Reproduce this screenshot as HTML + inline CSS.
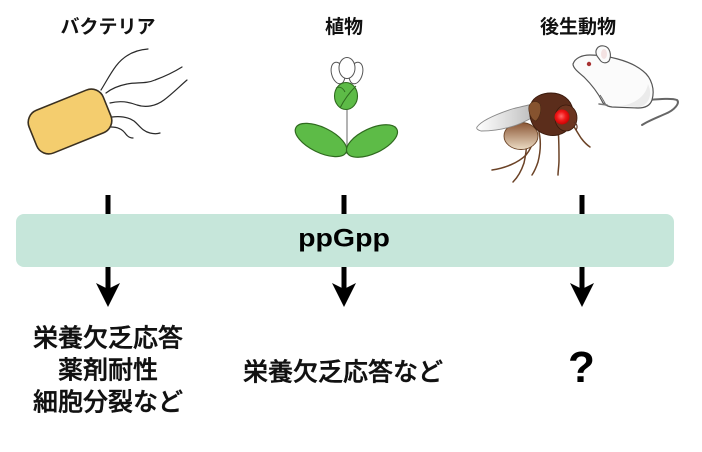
<!DOCTYPE html>
<html><head><meta charset="utf-8">
<style>
html,body{margin:0;padding:0;background:#fff;}
svg{display:block;}
.t{font-family:"Liberation Sans","Noto Sans CJK JP",sans-serif;fill:#111;}
.m{font-family:"Liberation Sans","Noto Sans CJK JP Medium","Noto Sans CJK JP",sans-serif;fill:#111;}
</style></head>
<body>
<svg width="702" height="452" viewBox="0 0 702 452" xmlns="http://www.w3.org/2000/svg">
<defs>
  <linearGradient id="wingG" x1="0" y1="0" x2="1" y2="0">
    <stop offset="0" stop-color="#ffffff"/>
    <stop offset="0.6" stop-color="#d4d4d4"/>
    <stop offset="1" stop-color="#b4b4b4"/>
  </linearGradient>
  <linearGradient id="abdG" x1="0" y1="0" x2="0" y2="1">
    <stop offset="0" stop-color="#8a5534"/>
    <stop offset="1" stop-color="#ecdcc4"/>
  </linearGradient>
  <radialGradient id="eyeG" cx="0.45" cy="0.45" r="0.6">
    <stop offset="0" stop-color="#ff6a6a"/>
    <stop offset="0.5" stop-color="#f01818"/>
    <stop offset="1" stop-color="#c00000"/>
  </radialGradient>
</defs>

<!-- Titles -->
<text class="t" x="108" y="33" font-size="19" font-weight="bold" text-anchor="middle">バクテリア</text>
<text class="t" x="344" y="33" font-size="19" font-weight="bold" text-anchor="middle">植物</text>
<text class="t" x="578" y="33" font-size="19" font-weight="bold" text-anchor="middle">後生動物</text>

<!-- Bacterium -->
<g fill="none" stroke="#2a2a2a" stroke-width="1.2" stroke-linecap="round">
  <path d="M101,90 C106,82 110,74 116,66 C123,57 133,50 148,49"/>
  <path d="M106,93 C111,89 117,86 127,84 C137,82 146,84 155,80 C166,76 174,72 182,67"/>
  <path d="M110,103 C118,101 127,101 137,105 C146,108 156,106 164,100 C172,94 180,86 187,80"/>
  <path d="M112,117 C120,116 128,117 134,121 C139,125 142,131 150,133 C154,134 157,134 160,133"/>
  <path d="M111,127 C117,127 122,129 125,133 C127,136 130,138 133,138"/>
</g>
<rect x="30" y="98.5" width="80" height="46" rx="13" ry="13" transform="rotate(-22 70 121.5)" fill="#f4cd6e" stroke="#3a3020" stroke-width="1.6"/>

<!-- Plant -->
<line x1="347" y1="106" x2="347" y2="154" stroke="#8a8a8a" stroke-width="1.3"/>
<ellipse cx="321" cy="140" rx="28" ry="12.5" transform="rotate(26 321 140)" fill="#5dbb47" stroke="#2f6a1f" stroke-width="1.2"/>
<ellipse cx="372" cy="141" rx="27.5" ry="12.5" transform="rotate(-25 372 141)" fill="#5dbb47" stroke="#2f6a1f" stroke-width="1.2"/>
<g fill="#ffffff" stroke="#555" stroke-width="1">
  <ellipse cx="338" cy="73" rx="6.5" ry="11" transform="rotate(-15 338 73)"/>
  <ellipse cx="356" cy="73" rx="6.5" ry="11" transform="rotate(15 356 73)"/>
  <ellipse cx="347" cy="68" rx="8" ry="10.5"/>
</g>
<ellipse cx="346" cy="96" rx="11.5" ry="13.5" fill="#5dbb47" stroke="#2f6a1f" stroke-width="1.1"/>
<path d="M340,108 C344,100 350,92 356,86" fill="none" stroke="#2f6a1f" stroke-width="1"/>
<path d="M336,88 C340,86 343,88 345,92" fill="none" stroke="#2f6a1f" stroke-width="0.9"/>

<!-- Mouse -->
<path d="M648,100 C660,99 672,98 677,100 C680,103 675,110 665,114 C656,118 648,121 642,125" fill="none" stroke="#666" stroke-width="2" stroke-linecap="round"/>
<path d="M573,64 C575,58 582,55 590,55 C605,55 630,60 643,71 C652,78 655,90 652,100 C650,106 645,108 638,108 L612,107 C606,106 603,104 602,101 C598,93 592,85 584,77 C578,72 573,68 573,64 Z" fill="#fbfbfb" stroke="#555" stroke-width="1.2"/>
<path d="M620,106 C635,104 646,96 648,84 C652,92 651,103 640,107 Z" fill="#ebebeb"/>
<path d="M597,56 C594,50 598,45 604,46 C610,47 612,55 609,61 C606,64 602,63 600,60 Z" fill="#fbfbfb" stroke="#555" stroke-width="1.1"/>
<ellipse cx="604" cy="54" rx="3" ry="5" fill="#f3e2e2"/>
<circle cx="589" cy="64" r="2.2" fill="#a83232"/>
<path d="M600,95 C603,99 604,102 606,105" fill="none" stroke="#666" stroke-width="1"/>
<path d="M599,104 L607,105" fill="none" stroke="#777" stroke-width="1.5" stroke-linecap="round"/>

<!-- Fly -->
<g fill="none" stroke="#6b4226" stroke-width="1.5" stroke-linecap="round" stroke-linejoin="round">
  <path d="M530,127 C535,135 534,145 526,155 C518,163 505,168 492,170"/>
  <path d="M528,130 C527,140 527,150 524,163 C521,172 517,178 513,182"/>
  <path d="M538,128 C541,138 541,150 538,162 C536,168 534,172 532,175"/>
  <path d="M558,128 C559,138 559,150 559,160 C559,166 558,171 558,175"/>
  <path d="M573,125 C576,130 579,135 581,138 C584,142 587,145 590,147"/>
</g>
<ellipse cx="521" cy="136" rx="17" ry="13.5" fill="url(#abdG)" stroke="#6a4326" stroke-width="0.9"/>
<path d="M477,127 C482,120 500,113 512,109 C520,107 528,105 534,104 L540,112 C530,120 518,125 510,127 C500,130 488,131 481,131 C478,130 476,129 477,127 Z" fill="url(#wingG)" stroke="#8a8a8a" stroke-width="0.9"/>
<path d="M531,104 C533,97 542,93 551,93 C562,93 571,99 573,110 C575,121 570,132 558,135 C548,137 538,133 533,125 C529,118 529,110 531,104 Z" fill="#5b2d1b" stroke="#3a1a0c" stroke-width="0.9"/>
<path d="M529,106 C531,101 537,100 540,104 C542,110 540,117 536,121 C531,120 528,112 529,106 Z" fill="#86532f" stroke="#4a2a14" stroke-width="0.6"/>
<ellipse cx="566" cy="118" rx="11" ry="13" fill="#6b3520" stroke="#3a1a0c" stroke-width="0.8"/>
<circle cx="562" cy="117" r="7.5" fill="url(#eyeG)"/>
<path d="M574,122 C577,124 578,127 576,130" fill="none" stroke="#5a3020" stroke-width="1.2"/>

<!-- ppGpp band -->
<line x1="108" y1="195" x2="108" y2="215" stroke="#000" stroke-width="5"/>
<line x1="344" y1="195" x2="344" y2="215" stroke="#000" stroke-width="5"/>
<line x1="582" y1="195" x2="582" y2="215" stroke="#000" stroke-width="5"/>
<rect x="16" y="214" width="658" height="53" rx="8" ry="8" fill="#c6e6da"/>
<text transform="translate(344 246.5) scale(1.14 1)" x="0" y="0" font-family="Liberation Sans, Arial, sans-serif" font-size="25" font-weight="bold" text-anchor="middle" fill="#000">ppGpp</text>

<!-- Down arrows -->
<g fill="#000">
  <rect x="105.5" y="267" width="5" height="24"/>
  <path d="M96,283 L108,289 L120,283 L108,307 Z"/>
  <rect x="341.5" y="267" width="5" height="24"/>
  <path d="M332,283 L344,289 L356,283 L344,307 Z"/>
  <rect x="579.5" y="267" width="5" height="24"/>
  <path d="M570,283 L582,289 L594,283 L582,307 Z"/>
</g>

<!-- Bottom texts -->
<g class="m" font-size="25" font-weight="500" text-anchor="middle" stroke="#111" stroke-width="0.45">
  <text x="108" y="346.5">栄養欠乏応答</text>
  <text x="108" y="378.5">薬剤耐性</text>
  <text x="108" y="410.5">細胞分裂など</text>
  <text x="343" y="380.5">栄養欠乏応答など</text>
</g>
<text x="581.5" y="382" font-family="Liberation Sans, Arial, sans-serif" font-size="44" font-weight="bold" text-anchor="middle" fill="#000">?</text>
</svg>
</body></html>
